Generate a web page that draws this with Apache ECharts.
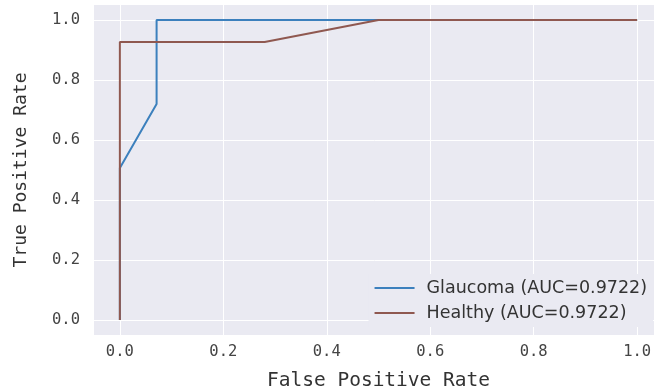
<!DOCTYPE html>
<html>
<head>
<meta charset="utf-8">
<script src="https://cdn.jsdelivr.net/npm/echarts@6/dist/echarts.min.js"></script>
<style>
  html, body { margin: 0; padding: 0; background: #fff; }
  #chart { width: 654px; height: 392px; }
</style>
</head>
<body>
<div id="chart"></div>
<script>
// ROC points
var glaucomaFpr = [0, 0, 0.071, 0.071, 0.5, 1.0]
var glaucomaTpr = [0, 0.507, 0.72, 1.0, 1.0, 1.0]
var healthyFpr = [0, 0, 0.28, 0.5, 1.0]
var healthyTpr = [0, 0.927, 0.927, 1.0, 1.0]
var ticks = [0, 0.2, 0.4, 0.6, 0.8, 1.0]
var names = ['Glaucoma (AUC=0.9722)', 'Healthy (AUC=0.9722)']

function pairs(xs, ys) {
    return xs.map(function (x, i) { return [x, ys[i]] })
}

var mono = 'DejaVu Sans Mono'
var chart = echarts.init(document.getElementById('chart'))

chart.setOption({
    animation: false,
    grid: {
        left: 94, top: 5, width: 569, height: 330, outerBoundsMode: 'none',
        backgroundColor: '#eaeaf2', show: true, borderWidth: 0
    },
    xAxis: {
        type: 'value', min: -0.05, max: 1.05,
        name: 'False Positive Rate', nameLocation: 'middle', nameGap: 36,
        nameTextStyle: { fontFamily: mono, fontSize: 19.5, color: '#333' },
        axisLine: { show: false }, axisTick: { show: false },
        axisLabel: {
            fontFamily: mono, fontSize: 15.5, color: '#444', margin: 9,
            customValues: ticks,
            formatter: function (v) { return v.toFixed(1) }
        },
        splitLine: { show: false }
    },
    yAxis: {
        type: 'value', min: -0.05, max: 1.05,
        name: 'True Positive Rate', nameLocation: 'middle', nameGap: 64,
        nameTextStyle: { fontFamily: mono, fontSize: 18, color: '#333' },
        axisLine: { show: false }, axisTick: { show: false },
        axisLabel: {
            fontFamily: mono, fontSize: 15.5, color: '#444', margin: 14,
            customValues: ticks,
            formatter: function (v) { return v.toFixed(1) }
        },
        splitLine: { show: false }
    },
    legend: {
        orient: 'vertical', right: 1, top: 274, itemGap: 5, padding: [4, 6],
        backgroundColor: '#eaeaf2', z: 10,
        itemWidth: 40, itemHeight: 2, icon: 'rect',
        textStyle: { fontFamily: 'DejaVu Sans', fontSize: 17.5, lineHeight: 20, color: '#333', padding: [0, 0, 0, 7] },
        data: names
    },
    series: [
        {
            name: 'grid', type: 'line', silent: true, data: [], z: 0,
            markLine: {
                symbol: 'none', silent: true, label: { show: false }, z: 0,
                lineStyle: { color: '#fff', width: 1, type: 'solid' },
                data: ticks.map(function (t) { return { xAxis: t } })
                    .concat(ticks.map(function (t) { return { yAxis: t } }))
            }
        },
        {
            name: names[0], type: 'line', data: pairs(glaucomaFpr, glaucomaTpr), z: 5,
            showSymbol: false, lineStyle: { color: '#3c80bd', width: 2 }, itemStyle: { color: '#3c80bd' }
        },
        {
            name: names[1], type: 'line', data: pairs(healthyFpr, healthyTpr), z: 6,
            showSymbol: false, lineStyle: { color: '#8f5850', width: 2 }, itemStyle: { color: '#8f5850' }
        }
    ]
})
</script>
</body>
</html>
